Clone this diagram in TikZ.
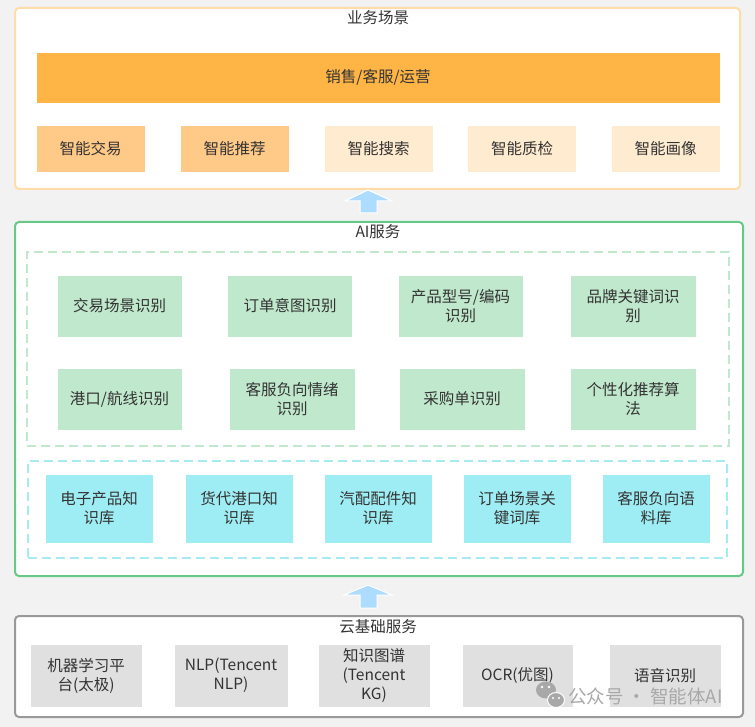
\documentclass[tikz,border=0pt]{standalone}
\usepackage{fontspec}
\setmainfont{Noto Sans CJK SC}
\definecolor{bg}{HTML}{F2F2F2}
\definecolor{txt}{HTML}{333333}
\definecolor{orgline}{HTML}{FFDDA8}
\definecolor{orgbar}{HTML}{FFB446}
\definecolor{orgmid}{HTML}{FFC987}
\definecolor{orglight}{HTML}{FFEBCF}
\definecolor{grnline}{HTML}{66C987}
\definecolor{grnfill}{HTML}{C0E8CC}
\definecolor{cyanfill}{HTML}{9FEDF4}
\definecolor{cyandash}{HTML}{A6EAF4}
\definecolor{grayline}{HTML}{999999}
\definecolor{grayfill}{HTML}{E0E0E0}
\definecolor{arrowblue}{HTML}{AEDCFF}
\definecolor{wm}{HTML}{A8A8A8}
\begin{document}
\begin{tikzpicture}[x=1pt,y=-1pt,
  every node/.style={font=\fontsize{15.5}{19}\selectfont, text=txt, inner sep=0pt, outer sep=0pt},
  outerbox/.style={draw, line width=2pt, rounded corners=4pt, fill=white},
  dashbox/.style={draw, line width=2pt, dash pattern=on 9pt off 5pt},
  cell/.style={draw=white, line width=0.6pt, align=center},
  blockarrow/.style={fill=arrowblue, draw=white, line width=1pt}
]
\useasboundingbox (0,0) rectangle (755,727);
\fill[bg] (0,0) rectangle (755,727);

% ---------- business scenarios ----------
\node[outerbox, draw=orgline, minimum width=725pt, minimum height=181pt] (biz) at (377.5,98.5) {};
\node (bizt) at (378,18) {业务场景};
\node[cell, fill=orgbar, minimum width=684pt, minimum height=51pt] (bar) at (378,77.5) {销售/客服/运营};
\node[cell, fill=orgmid, minimum width=109pt, minimum height=47pt] (b1) at (90.5,148.5) {智能交易};
\node[cell, fill=orgmid, minimum width=109pt, minimum height=47pt] (b2) at (234.5,148.5) {智能推荐};
\node[cell, fill=orglight, minimum width=109pt, minimum height=47pt] (b3) at (378.5,148.5) {智能搜索};
\node[cell, fill=orglight, minimum width=109pt, minimum height=47pt] (b4) at (522,148.5) {智能质检};
\node[cell, fill=orglight, minimum width=109pt, minimum height=47pt] (b5) at (665.5,148.5) {智能画像};

% ---------- arrow 1 ----------
\draw[blockarrow] (368,190) -- (392,201) -- (377,201) -- (377,213) -- (360,213) -- (360,201) -- (345,201) -- cycle;

% ---------- AI services ----------
\node[outerbox, draw=grnline, minimum width=728pt, minimum height=354pt] (ai) at (379,399) {};
\node (ait) at (378,232) {AI服务};
\node[dashbox, draw=grnfill, minimum width=702pt, minimum height=194pt] (dash1) at (378,349) {};
\node[cell, fill=grnfill, minimum width=125pt, minimum height=62pt] (g1) at (119.5,306) {交易场景识别};
\node[cell, fill=grnfill, minimum width=125pt, minimum height=62pt] (g2) at (290,306) {订单意图识别};
\node[cell, fill=grnfill, minimum width=125pt, minimum height=62pt] (g3) at (460.5,306) {产品型号/编码\\识别};
\node[cell, fill=grnfill, minimum width=126pt, minimum height=62pt] (g4) at (633,306) {品牌关键词识\\别};
\node[cell, fill=grnfill, minimum width=125pt, minimum height=62pt] (g5) at (119.5,399) {港口/航线识别};
\node[cell, fill=grnfill, minimum width=126pt, minimum height=62pt] (g6) at (292,399) {客服负向情绪\\识别};
\node[cell, fill=grnfill, minimum width=126pt, minimum height=62pt] (g7) at (462,399) {采购单识别};
\node[cell, fill=grnfill, minimum width=126pt, minimum height=62pt] (g8) at (633,399) {个性化推荐算\\法};

\node[dashbox, draw=cyandash, minimum width=699pt, minimum height=97pt] (dash2) at (377.5,509.5) {};
\node[cell, fill=cyanfill, minimum width=108pt, minimum height=69pt] (k1) at (99,508.5) {电子产品知\\识库};
\node[cell, fill=cyanfill, minimum width=108pt, minimum height=69pt] (k2) at (239,508.5) {货代港口知\\识库};
\node[cell, fill=cyanfill, minimum width=108pt, minimum height=69pt] (k3) at (378,508.5) {汽配配件知\\识库};
\node[cell, fill=cyanfill, minimum width=108pt, minimum height=69pt] (k4) at (517,508.5) {订单场景关\\键词库};
\node[cell, fill=cyanfill, minimum width=108pt, minimum height=69pt] (k5) at (656,508.5) {客服负向语\\料库};

% ---------- arrow 2 ----------
\draw[blockarrow] (368,585) -- (392,595) -- (377,595) -- (377,608) -- (360,608) -- (360,595) -- (344,595) -- cycle;

% ---------- cloud services ----------
\node[outerbox, draw=grayline, minimum width=728pt, minimum height=101pt] (cloud) at (379,666.5) {};
\node (cloudt) at (378,627) {云基础服务};
\node[cell, fill=grayfill, minimum width=112pt, minimum height=63pt] (c1) at (86,675.5) {机器学习平\\台(太极)};
\node[cell, fill=grayfill, minimum width=114pt, minimum height=63pt] (c2) at (231,675.5) {NLP(Tencent\\NLP)};
\node[cell, fill=grayfill, minimum width=112pt, minimum height=63pt] (c3) at (374,675.5) {知识图谱\\(Tencent\\KG)};
\node[cell, fill=grayfill, minimum width=111pt, minimum height=63pt] (c4) at (517.5,675.5) {OCR(优图)};
\node[cell, fill=grayfill, minimum width=112pt, minimum height=63pt] (c5) at (665,675.5) {语音识别};

% ---------- watermark ----------
\fill[wm] (546,690) ellipse [x radius=10pt, y radius=8.5pt];
\draw[fill=wm, draw=white, line width=1pt] (556,700) ellipse [x radius=8.5pt, y radius=7.5pt];
\fill[white] (542,687) circle (1.3pt) (549,687) circle (1.3pt) (553,698) circle (1.1pt) (559,698) circle (1.1pt);
\node[font=\fontsize{18.5}{20}\selectfont, text=wm, anchor=west] (wmt) at (568,696) {公众号 · 智能体AI};
\end{tikzpicture}
\end{document}
